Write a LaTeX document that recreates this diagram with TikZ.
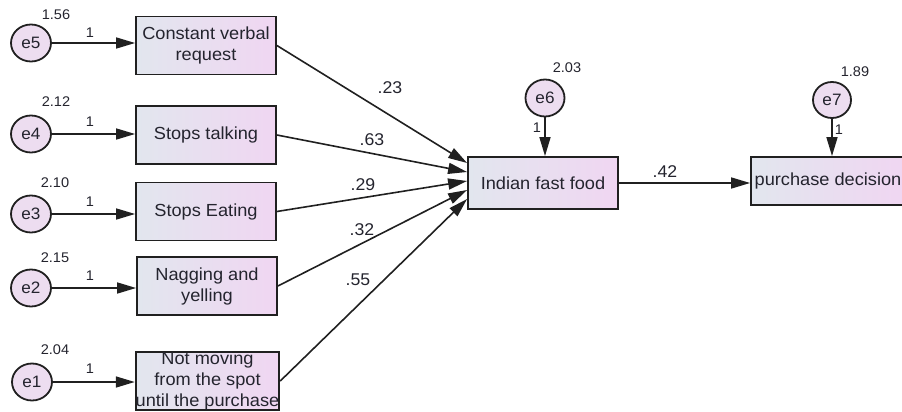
\documentclass[tikz,border=0pt]{standalone}
\usepackage{fontspec}
\setmainfont{Liberation Sans}[FakeStretch=1.04]
\usepackage{tikz}
\usetikzlibrary{arrows.meta,shapes.geometric,positioning}
\definecolor{cBoxL}{HTML}{E2E6EE}
\definecolor{cBoxR}{HTML}{F0D6F2}
\definecolor{cErr}{HTML}{EDDDF0}
\definecolor{cLine}{HTML}{202020}
\definecolor{cTxt}{HTML}{24242E}
\tikzset{
  obs/.style={rectangle,draw=cLine,line width=1.8pt,left color=cBoxL,right color=cBoxR,
    minimum width=140pt,minimum height=58pt,inner sep=0pt,align=center,text=cTxt,
    font=\fontsize{17.5}{21}\selectfont},
  err/.style={ellipse,draw=cLine,line width=1.8pt,fill=cErr,minimum width=40pt,
    minimum height=37pt,inner sep=0pt,text=cTxt,font=\fontsize{16.5}{18}\selectfont},
  var/.style={text=cTxt,font=\fontsize{14}{16}\selectfont,inner sep=0pt},
  one/.style={text=cTxt,font=\fontsize{14}{16}\selectfont,inner sep=0pt},
  coef/.style={text=cTxt,font=\fontsize{17}{19}\selectfont,inner sep=0pt},
  arr/.style={-{Triangle[length=19pt,width=11pt]},line width=1.6pt,cLine},
}
\begin{document}
\begin{tikzpicture}[x=1pt,y=-1pt]
  \useasboundingbox (0,0) rectangle (902,412);
  \clip (0,0) rectangle (902,412);
  % observed indicators
  \node[obs] (b5) at (206,45.5) {Constant verbal\\request};
  \node[obs] (b4) at (206,135) {Stops talking};
  \node[obs] (b3) at (206,211.5) {Stops Eating};
  \node[obs] (b2) at (207,286) {Nagging and\\yelling};
  \node[obs] (b1) at (207.5,381) {Not moving\\from the spot\\until the purchase};
  \node[obs,minimum width=150pt,minimum height=52pt] (iff) at (543,183) {Indian fast food};
  \node[obs,minimum width=154pt,minimum height=48pt] (pd) at (828,181) {purchase decision};
  % error terms
  \node[err] (e5) at (31,43) {e5};
  \node[err] (e4) at (31,134) {e4};
  \node[err] (e3) at (31,214) {e3};
  \node[err] (e2) at (31,288) {e2};
  \node[err] (e1) at (32,382) {e1};
  \node[err,minimum width=39pt] (e6) at (545,98) {e6};
  \node[err,minimum width=38pt,minimum height=36pt] (e7) at (832,100) {e7};
  \node[var] (v5) at (56,15) {1.56};
  \node[var] (v4) at (56,102) {2.12};
  \node[var] (v3) at (55,183) {2.10};
  \node[var] (v2) at (55,258) {2.15};
  \node[var] (v1) at (55,350) {2.04};
  \node[var] (v6) at (567,68) {2.03};
  \node[var] (v7) at (855,72) {1.89};
  \foreach \e/\b/\yy in {e5/b5/33,e4/b4/122,e3/b3/202,e2/b2/276,e1/b1/369}{
    \draw[arr] (\e) -- (\e -| \b.west);
    \node[one] at (90,\yy) {1};
  }
  \draw[arr] (e6) -- (e6 |- iff.north);
  \node[one] (w6) at (537,128) {1};
  \draw[arr] (e7) -- (e7 |- pd.north);
  \node[one] (w7) at (839,130) {1};
  % paths
  \foreach \s/\d in {b5/20,b4/11,b3/2,b2/-7,b1/-16}
    \draw[arr] (\s.east) -- ([yshift=\d pt]iff.west);
  \draw[arr] (iff) -- (iff -| pd.west);
  \node[coef] (c5) at (390,88) {.23};
  \node[coef] (c4) at (372,140) {.63};
  \node[coef] (c3) at (363,185) {.29};
  \node[coef] (c2) at (362,230) {.32};
  \node[coef] (c1) at (358,280) {.55};
  \node[coef] (c6) at (665,172) {.42};
\end{tikzpicture}
\end{document}
